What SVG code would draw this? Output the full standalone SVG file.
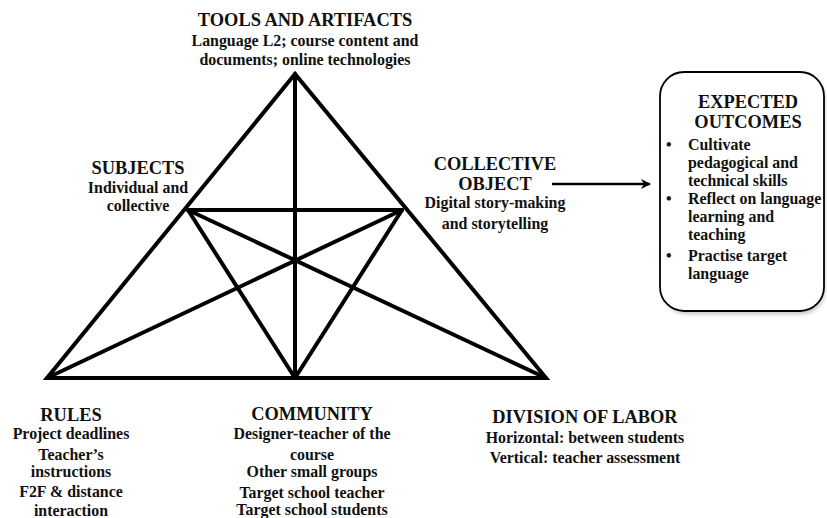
<svg xmlns="http://www.w3.org/2000/svg" width="827" height="518" viewBox="0 0 827 518">
<defs>
<marker id="arr" markerWidth="10" markerHeight="10" refX="9" refY="5" orient="auto" markerUnits="userSpaceOnUse"><path d="M0,0 L10,5 L0,10 L3,5 Z" fill="#000"/></marker>
<filter id="sh" x="-10%" y="-10%" width="130%" height="130%"><feGaussianBlur stdDeviation="2"/></filter>
<style>
.t{font-family:"Liberation Serif","Times New Roman",serif;font-weight:bold;fill:#111;text-anchor:middle}
.h{font-size:18.4px}
.b{font-size:15.9px}
.l{text-anchor:start}
.ln{stroke:#000;stroke-width:4;fill:none;stroke-linejoin:miter;stroke-linecap:round}
</style>
</defs>
<rect width="827" height="518" fill="#fff"/>
<g id="connectors">
<path class="ln" d="M295,74 L47,378 L546,378 Z"/>
<line class="ln" x1="295" y1="74" x2="295" y2="378"/>
<line class="ln" x1="188" y1="210" x2="402" y2="210"/>
<line class="ln" x1="188" y1="210" x2="295" y2="378"/>
<line class="ln" x1="402" y1="210" x2="295" y2="378"/>
<line class="ln" x1="47" y1="378" x2="402" y2="210"/>
<line class="ln" x1="546" y1="378" x2="188" y2="210"/>
<line x1="552" y1="184" x2="650" y2="184" stroke="#000" stroke-width="2.5" marker-end="url(#arr)"/>
</g>
<g id="tools">
<text class="t h" x="305" y="26">TOOLS AND ARTIFACTS</text>
<text class="t b" x="305" y="46">Language L2; course content and</text>
<text class="t b" x="305" y="65">documents; online technologies</text>
</g>
<g id="subjects">
<text class="t h" x="138" y="174">SUBJECTS</text>
<text class="t b" x="138" y="193">Individual and</text>
<text class="t b" x="138" y="211">collective</text>
</g>
<g id="object">
<text class="t h" x="495" y="170">COLLECTIVE</text>
<text class="t h" x="495" y="190">OBJECT</text>
<text class="t b" x="495" y="208">Digital story-making</text>
<text class="t b" x="495" y="229">and storytelling</text>
</g>
<g id="outcomes">
<rect x="663" y="75" width="162" height="239" rx="24" fill="#999" opacity="0.6" filter="url(#sh)"/>
<rect x="660" y="72" width="164" height="239" rx="24" fill="#fff" stroke="#000" stroke-width="1.8"/>
<text class="t h" x="748" y="108">EXPECTED</text>
<text class="t h" x="748" y="128">OUTCOMES</text>
<text class="t b l" x="666" y="150">•</text>
<text class="t b l" x="688" y="150">Cultivate</text>
<text class="t b l" x="688" y="168">pedagogical and</text>
<text class="t b l" x="688" y="186">technical skills</text>
<text class="t b l" x="666" y="204">•</text>
<text class="t b l" x="688" y="204">Reflect on language</text>
<text class="t b l" x="688" y="222">learning and</text>
<text class="t b l" x="688" y="240">teaching</text>
<text class="t b l" x="666" y="261">•</text>
<text class="t b l" x="688" y="261">Practise target</text>
<text class="t b l" x="688" y="279">language</text>
</g>
<g id="rules">
<text class="t h" x="71" y="421">RULES</text>
<text class="t b" x="71" y="439">Project deadlines</text>
<text class="t b" x="71" y="460">Teacher’s</text>
<text class="t b" x="71" y="477">instructions</text>
<text class="t b" x="71" y="497">F2F &amp; distance</text>
<text class="t b" x="71" y="516">interaction</text>
</g>
<g id="community">
<text class="t h" x="312" y="420">COMMUNITY</text>
<text class="t b" x="312" y="439">Designer-teacher of the</text>
<text class="t b" x="312" y="460">course</text>
<text class="t b" x="312" y="477">Other small groups</text>
<text class="t b" x="312" y="498">Target school teacher</text>
<text class="t b" x="312" y="515">Target school students</text>
</g>
<g id="division">
<text class="t h" x="585" y="423">DIVISION OF LABOR</text>
<text class="t b" x="585" y="443">Horizontal: between students</text>
<text class="t b" x="585" y="463">Vertical: teacher assessment</text>
</g>
</svg>
